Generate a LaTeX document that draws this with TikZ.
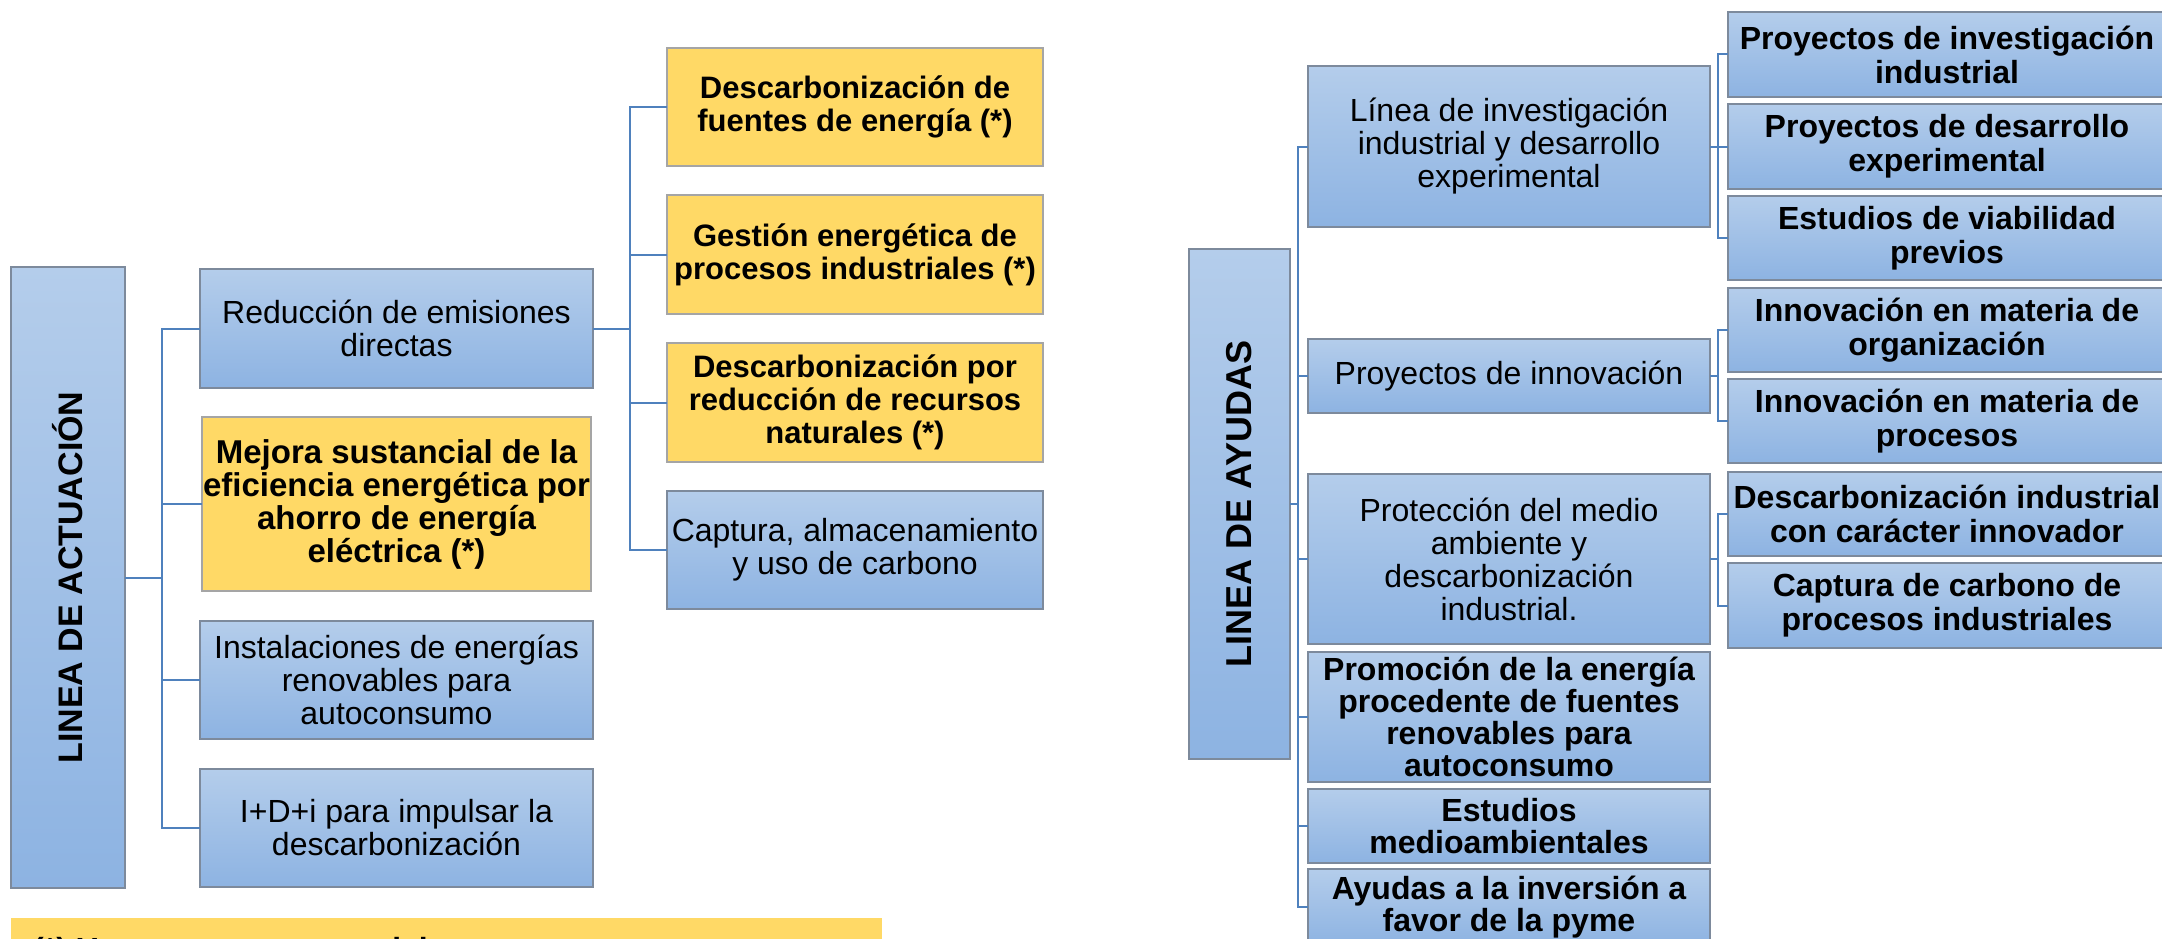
\documentclass[tikz,border=0pt]{standalone}
\usepackage{fontspec}
\setmainfont{Liberation Sans}
\usepackage{tikz}
\usetikzlibrary{positioning}
\definecolor{bluetop}{HTML}{B4CDEB}
\definecolor{bluebot}{HTML}{8DB3E2}
\definecolor{blueedge}{HTML}{7D8A9C}
\definecolor{yellowfill}{HTML}{FFD966}
\definecolor{yellowedge}{HTML}{A5A5A5}
\definecolor{linkblue}{HTML}{4F81BD}

\begin{document}
\begin{tikzpicture}[
x=1pt, y=-1pt,
bluebox/.style={rectangle, draw=blueedge, line width=1.5pt, top color=bluetop, bottom color=bluebot, inner sep=0pt, outer sep=0pt, align=center},
mainnode/.style={bluebox, font=\bfseries\fontsize{34}{36}\selectfont},
levelnode/.style={bluebox, font=\fontsize{32}{33}\selectfont},
itemnode/.style={bluebox, font=\bfseries\fontsize{32}{34}\selectfont},
starnode/.style={rectangle, draw=yellowedge, line width=1.5pt, fill=yellowfill, inner sep=0pt, outer sep=0pt, align=center, font=\bfseries\fontsize{31}{33}\selectfont},
linkline/.style={draw=linkblue, line width=2pt},
]
\clip (0,0) rectangle (2162,939);

%Nodes (left)
\node[mainnode, minimum width=114pt, minimum height=621pt, anchor=north west]	(act)	at (11,267)	{\rotatebox{90}{LINEA DE ACTUACIÓN}};
\node[levelnode, minimum width=393pt, minimum height=119pt, anchor=north west]	(red)	at (200,269)	{Reducción de emisiones\\directas};
\node[starnode, minimum width=389pt, minimum height=174pt, font=\bfseries\fontsize{33}{33}\selectfont]	(mej)	[below=29pt of red]	{Mejora sustancial de la\\eficiencia energética por\\ahorro de energía\\eléctrica (*)};
\node[levelnode, minimum width=393pt, minimum height=118pt]	(ins)	[below=30pt of mej]	{Instalaciones de energías\\renovables para\\autoconsumo};
\node[levelnode, minimum width=393pt, minimum height=118pt]	(imp)	[below=30pt of ins]	{I+D+i para impulsar la\\descarbonización};

\node[starnode, minimum width=376pt, minimum height=118pt, anchor=north west]	(fue)	at (667,48)	{Descarbonización de\\fuentes de energía (*)};
\node[starnode, minimum width=376pt, minimum height=119pt]	(ges)	[below=29pt of fue]	{Gestión energética de\\procesos industriales (*)};
\node[starnode, minimum width=376pt, minimum height=119pt]	(rec)	[below=29pt of ges]	{Descarbonización por\\reducción de recursos\\naturales (*)};
\node[levelnode, minimum width=376pt, minimum height=118pt]	(cap)	[below=29pt of rec]	{Captura, almacenamiento\\y uso de carbono};

\node[fill=yellowfill, minimum width=871pt, minimum height=60pt, inner sep=0pt, anchor=north west]	(nota)	at (11,918)	{};
\node[font=\bfseries\fontsize{32}{34}\selectfont, inner sep=0pt, anchor=base west]	(notatxt)	at (33,960)	{(*) Un proyecto tractor del programa};

%Nodes (right)
\node[mainnode, minimum width=101pt, minimum height=510pt, anchor=north west, font=\bfseries\fontsize{36}{38}\selectfont]	(ayu)	at (1189,249)	{\rotatebox{90}{LINEA DE AYUDAS}};
\node[levelnode, minimum width=402pt, minimum height=161pt, anchor=north west]	(lin)	at (1308,66)	{Línea de investigación\\industrial y desarrollo\\experimental};
\node[levelnode, minimum width=402pt, minimum height=74pt]	(inn)	[below=112pt of lin]	{Proyectos de innovación};
\node[levelnode, minimum width=402pt, minimum height=170pt]	(pro)	[below=61pt of inn]	{Protección del medio\\ambiente y\\descarbonización\\industrial.};
\node[itemnode, minimum width=402pt, minimum height=130pt, font=\bfseries\fontsize{32}{32}\selectfont]	(prom)	[below=8pt of pro]	{Promoción de la energía\\procedente de fuentes\\renovables para\\autoconsumo};
\node[itemnode, minimum width=402pt, minimum height=74pt, font=\bfseries\fontsize{32}{32}\selectfont]	(est)	[below=7pt of prom]	{Estudios\\medioambientales};
\node[itemnode, minimum width=402pt, minimum height=76pt, font=\bfseries\fontsize{32}{32}\selectfont]	(inv)	[below=6pt of est]	{Ayudas a la inversión a\\favor de la pyme};

\node[itemnode, minimum width=438pt, minimum height=85pt, anchor=north west]	(pii)	at (1728,12)	{Proyectos de investigación\\industrial};
\node[itemnode, minimum width=438pt, minimum height=85pt]	(pde)	[below=7pt of pii]	{Proyectos de desarrollo\\experimental};
\node[itemnode, minimum width=438pt, minimum height=84pt]	(evp)	[below=7pt of pde]	{Estudios de viabilidad\\previos};
\node[itemnode, minimum width=438pt, minimum height=84pt]	(iorg)	[below=8pt of evp]	{Innovación en materia de\\organización};
\node[itemnode, minimum width=438pt, minimum height=84pt]	(iproc)	[below=7pt of iorg]	{Innovación en materia de\\procesos};
\node[itemnode, minimum width=438pt, minimum height=84pt]	(dind)	[below=9pt of iproc]	{Descarbonización industrial\\con carácter innovador};
\node[itemnode, minimum width=438pt, minimum height=85pt]	(ccp)	[below=7pt of dind]	{Captura de carbono de\\procesos industriales};

%Lines
\draw[linkline] (act.east) -- ++(37,0) coordinate (tA);
\foreach \n in {red,mej,ins,imp} \draw[linkline] (tA) |- (\n.west);
\draw[linkline] (red.east) -- ++(37,0) coordinate (tB);
\foreach \n in {fue,ges,rec,cap} \draw[linkline] (tB) |- (\n.west);

\draw[linkline] (ayu.east) -- ++(8,0) coordinate (tC);
\foreach \n in {lin,inn,pro,prom,est,inv} \draw[linkline] (tC) |- (\n.west);
\draw[linkline] (lin.east) -- ++(8,0) coordinate (tD);
\foreach \n in {pii,pde,evp} \draw[linkline] (tD) |- (\n.west);
\draw[linkline] (inn.east) -- ++(8,0) coordinate (tE);
\foreach \n in {iorg,iproc} \draw[linkline] (tE) |- (\n.west);
\draw[linkline] (pro.east) -- ++(8,0) coordinate (tF);
\foreach \n in {dind,ccp} \draw[linkline] (tF) |- (\n.west);
\end{tikzpicture}
\end{document}
